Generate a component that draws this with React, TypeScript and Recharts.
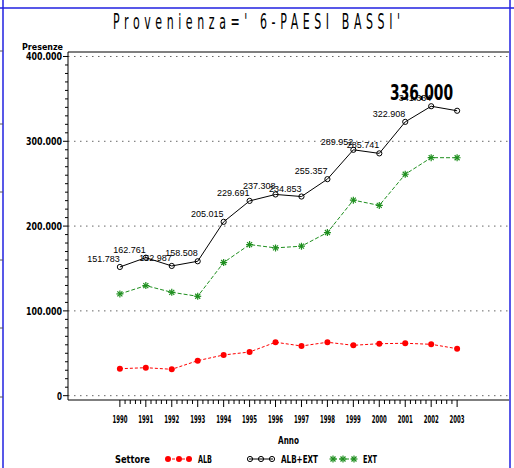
import React from 'react'
import { LineChart, Line, XAxis, YAxis, CartesianGrid, LabelList } from 'recharts'

const years = [1990, 1991, 1992, 1993, 1994, 1995, 1996, 1997, 1998, 1999, 2000, 2001, 2002, 2003]
const albValues = [31800, 33000, 31100, 41300, 48000, 51500, 63000, 58600, 63000, 59400, 61300, 61800, 60600, 55400]
const totalValues = [151783, 162761, 152987, 158508, 205015, 229691, 237308, 234853, 255357, 289952, 285741, 322908, 341334, 336000]
const extValues = [120000, 129800, 121900, 117200, 157000, 178200, 174300, 176300, 192400, 230600, 224400, 261100, 280700, 280600]
const yMajorTicks = [0, 100000, 200000, 300000, 400000]

const title = "Provenienza=' 6-PAESI BASSI'"
const seriesNames = ['ALB', 'ALB+EXT', 'EXT']

const data = years.map((year, i) => ({
  year,
  alb: albValues[i],
  total: totalValues[i],
  ext: extValues[i],
}))

// minor ticks: every 0.2 year on x, every 10.000 on y
const xTicks: number[] = []
for (let i = 0; i <= (2003 - 1990) * 5; i++) xTicks.push(Math.round((1990 + i * 0.2) * 10) / 10)
const yTicks: number[] = []
for (let v = 0; v <= 400000; v += 10000) yTicks.push(v)

const RED = '#ff0000'
const GREEN = '#1f8f1f'
const BLUE = '#2020e0'
const SAS = '"Liberation Sans Narrow", "DejaVu Sans Condensed", "Liberation Sans", sans-serif'
const SWISS = '"Liberation Sans", Arial, sans-serif'

const fmt = (v: number) => {
  if (v < 1000) return String(v)
  const rest = String(v % 1000).padStart(3, '0')
  return Math.floor(v / 1000) + '.' + rest
}

const XTick = ({ x, y, payload }: any) => {
  const v = payload.value
  const major = Math.abs(v - Math.round(v)) < 1e-6
  return (
    <g>
      <line x1={x} x2={x} y1={y} y2={y + (major ? 7 : 4)} stroke="#000" />
      {major && (
        <text x={x} y={y + 23} textAnchor="middle" fontFamily={SAS} fontSize={10.5} fontWeight="bold"
          textLength={15} lengthAdjust="spacingAndGlyphs" fill="#000">
          {v}
        </text>
      )}
    </g>
  )
}

const YTick = ({ x, y, payload }: any) => {
  const v = payload.value
  const major = v % 100000 === 0
  const label = fmt(v)
  return (
    <g>
      <line x1={x - (major ? 5 : 3)} x2={x} y1={y} y2={y} stroke="#000" />
      {major && (
        <text x={x - 6} y={y + 4} textAnchor="end" fontFamily={SAS} fontSize={10.5} fontWeight="bold"
          textLength={label.length > 1 ? 36 : 5} lengthAdjust="spacingAndGlyphs" fill="#000">
          {label}
        </text>
      )}
    </g>
  )
}

const TotalLabel = (props: any) => {
  const { x, y, value, index } = props
  if (index === totalValues.length - 1) {
    return (
      <text x={x - 4} y={y - 11} textAnchor="end" fontFamily={SAS} fontSize={22} fontWeight="bold" fill="#000"
        textLength={63} lengthAdjust="spacingAndGlyphs">
        {fmt(value)}
      </text>
    )
  }
  return (
    <text x={x} y={y - 5} textAnchor="end" fontFamily={SWISS} fontSize={9} fill="#000">
      {fmt(value)}
    </text>
  )
}

const AlbDot = ({ cx, cy, index }: any) => <circle key={index} cx={cx} cy={cy} r={3} fill={RED} />

const Star = ({ cx, cy, color, k }: any) => (
  <g key={k} stroke={color} strokeWidth={1.2}>
    <line x1={cx - 3.5} x2={cx + 3.5} y1={cy} y2={cy} />
    <line x1={cx} x2={cx} y1={cy - 3.5} y2={cy + 3.5} />
    <line x1={cx - 2.5} x2={cx + 2.5} y1={cy - 2.5} y2={cy + 2.5} />
    <line x1={cx - 2.5} x2={cx + 2.5} y1={cy + 2.5} y2={cy - 2.5} />
  </g>
)
const ExtDot = ({ cx, cy, index }: any) => <Star key={index} k={index} cx={cx} cy={cy} color={GREEN} />

const Legend = () => {
  const cy = 459
  return (
    <g>
      <text x={115} y={463} fontFamily={SAS} fontSize={10} fontWeight="bold" textLength={35} lengthAdjust="spacingAndGlyphs">Settore</text>
      <line x1={167} x2={190} y1={cy} y2={cy} stroke={RED} strokeDasharray="3 2" />
      {[168, 179, 189].map((x) => <circle key={x} cx={x} cy={cy} r={3} fill={RED} />)}
      <text x={198} y={463} fontFamily={SAS} fontSize={10} fontWeight="bold" textLength={14} lengthAdjust="spacingAndGlyphs">{seriesNames[0]}</text>
      <line x1={249} x2={273} y1={cy} y2={cy} stroke="#000" />
      {[250, 261, 272].map((x) => <circle key={x} cx={x} cy={cy} r={2.6} fill="none" stroke="#000" />)}
      <text x={281} y={463} fontFamily={SAS} fontSize={10} fontWeight="bold" textLength={37} lengthAdjust="spacingAndGlyphs">{seriesNames[1]}</text>
      <line x1={333} x2={354} y1={cy} y2={cy} stroke={GREEN} strokeDasharray="4 2" />
      {[333, 343, 354].map((x) => <Star key={x} k={x} cx={x} cy={cy} color={GREEN} />)}
      <text x={363} y={463} fontFamily={SAS} fontSize={10} fontWeight="bold" textLength={14} lengthAdjust="spacingAndGlyphs">{seriesNames[2]}</text>
    </g>
  )
}

export default function App() {
  return (
    <div style={{ position: 'absolute', left: 0, top: 0, width: 514, height: 468, background: '#fff' }}>
      <LineChart width={514} height={468} data={data} margin={{ top: 52, right: 5, bottom: 38, left: 0 }}>
        <CartesianGrid vertical={false} horizontalValues={yMajorTicks} stroke="#666" strokeDasharray="1.5 4.5" />
        <XAxis
          type="number"
          dataKey="year"
          domain={[1988, 2005]}
          ticks={xTicks}
          interval={0}
          height={30}
          tickSize={0}
          tickMargin={0}
          tickLine={false}
          tick={<XTick />}
          axisLine={{ stroke: '#000' }}
        />
        <YAxis
          type="number"
          domain={[-5100, 405300]}
          ticks={yTicks}
          interval={0}
          width={68}
          tickSize={0}
          tickMargin={0}
          tickLine={false}
          tick={<YTick />}
          axisLine={{ stroke: '#000' }}
          allowDataOverflow
        />
        <Line dataKey="alb" stroke={RED} strokeWidth={1} strokeDasharray="3 2" dot={<AlbDot />} isAnimationActive={false} />
        <Line dataKey="total" stroke="#000" strokeWidth={1} dot={{ r: 2.6, fill: 'none', stroke: '#000', strokeWidth: 1 }} isAnimationActive={false}>
          <LabelList dataKey="total" content={<TotalLabel />} />
        </Line>
        <Line dataKey="ext" stroke={GREEN} strokeWidth={1} strokeDasharray="4 2" dot={<ExtDot />} isAnimationActive={false} />
      </LineChart>
      <svg width={514} height={468} style={{ position: 'absolute', left: 0, top: 0, pointerEvents: 'none' }}>
        <line x1={0} x2={514} y1={8} y2={8} stroke={BLUE} strokeWidth={1.5} />
        <line x1={3} x2={3} y1={0} y2={468} stroke={BLUE} strokeWidth={1.5} />
        <line x1={510} x2={510} y1={0} y2={468} stroke={BLUE} strokeWidth={1.5} />
        {[51, 124, 192, 260, 328, 397].map((y) => <line key={y} x1={0} x2={3} y1={y} y2={y} stroke="#555" />)}
        <line x1={68} x2={509} y1={52} y2={52} stroke="#000" />
        <text x={0} y={0} transform="translate(113,29) scale(0.5,1)" fontFamily='"DejaVu Sans", sans-serif' fontSize={22}
          textLength={574} lengthAdjust="spacing" fill="#000">{title}</text>
        <text x={22} y={50} fontFamily={SAS} fontSize={9.5} fontWeight="bold" textLength={41} lengthAdjust="spacingAndGlyphs">Presenze</text>
        <text x={278} y={444} fontFamily={SAS} fontSize={10} fontWeight="bold" textLength={21} lengthAdjust="spacingAndGlyphs">Anno</text>
        <Legend />
      </svg>
    </div>
  )
}
